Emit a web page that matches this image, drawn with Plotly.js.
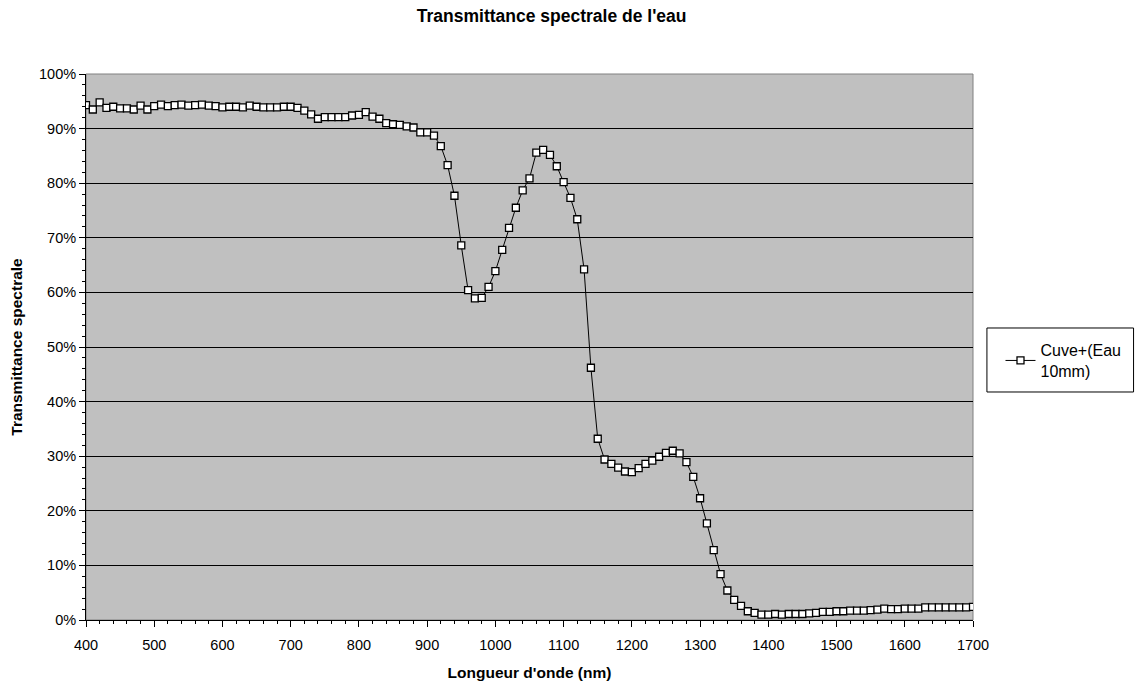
<!DOCTYPE html>
<html>
<head>
<meta charset="utf-8">
<script src="https://cdn.plot.ly/plotly-3.0.1.min.js"></script>
<style>html,body{margin:0;padding:0;background:#fff;}#chart{width:1139px;height:681px;}</style>
</head>
<body>
<div id="chart"></div>
<script>
// Wavelengths (nm), one point every 10 nm (390 lies just outside the visible axis)
const wavelengths = [390,400,410,420,430,440,450,460,470,480,490,500,510,520,530,540,550,560,570,580,590,
  600,610,620,630,640,650,660,670,680,690,700,710,720,730,740,750,760,770,780,790,
  800,810,820,830,840,850,860,870,880,890,900,910,920,930,940,950,960,970,980,990,
  1000,1010,1020,1030,1040,1050,1060,1070,1080,1090,1100,1110,1120,1130,1140,1150,1160,1170,1180,1190,
  1200,1210,1220,1230,1240,1250,1260,1270,1280,1290,1300,1310,1320,1330,1340,1350,1360,1370,1380,1390,
  1400,1410,1420,1430,1440,1450,1460,1470,1480,1490,1500,1510,1520,1530,1540,1550,1560,1570,1580,1590,
  1600,1610,1620,1630,1640,1650,1660,1670,1680,1690,1700];
// Transmittance (%) for "Cuve+(Eau 10mm)"
const transmittance = [88.0,94.3,93.5,94.8,93.8,94.0,93.7,93.7,93.5,94.2,93.5,94.1,94.4,94.1,94.3,94.4,94.2,94.3,94.4,94.2,94.1,
  93.9,94.0,94.0,93.9,94.2,94.0,93.9,93.9,93.9,94.0,94.0,93.8,93.3,92.6,91.8,92.1,92.1,92.1,92.1,92.4,
  92.5,93.0,92.2,91.8,91.0,90.8,90.7,90.4,90.2,89.3,89.3,88.7,86.8,83.3,77.7,68.6,60.4,58.9,59.0,61.0,
  63.9,67.8,71.8,75.5,78.7,80.9,85.6,86.1,85.2,83.1,80.2,77.3,73.4,64.2,46.2,33.2,29.4,28.6,27.9,27.2,
  27.1,27.8,28.6,29.2,29.9,30.6,31.0,30.5,28.9,26.2,22.3,17.7,12.8,8.4,5.4,3.7,2.6,1.6,1.3,1.0,
  1.0,1.1,1.0,1.1,1.1,1.1,1.2,1.3,1.5,1.5,1.6,1.6,1.7,1.7,1.7,1.8,1.9,2.1,2.0,2.0,
  2.1,2.1,2.1,2.3,2.3,2.3,2.3,2.3,2.3,2.3,2.4];
const seriesName = "Cuve+(Eau<br>10mm)";
const yTickVals = [0,10,20,30,40,50,60,70,80,90,100];
const yTickText = ["0%","10%","20%","30%","40%","50%","60%","70%","80%","90%","100%"];

const font = "Liberation Sans, Arial, sans-serif";

const trace = {
  x: wavelengths, y: transmittance, name: seriesName,
  type: "scatter", mode: "lines+markers",
  line: {color: "#000", width: 1},
  marker: {symbol: "square", size: 7, color: "#fff", line: {color: "#000", width: 1.3}},
  cliponaxis: true
};

const layout = {
  width: 1139, height: 681,
  margin: {l: 86, r: 164, t: 74, b: 61, pad: 0},
  paper_bgcolor: "#fff", plot_bgcolor: "#C0C0C0",
  font: {family: font, size: 14.5, color: "#000"},
  title: {text: "<b>Transmittance spectrale de l'eau</b>", font: {family: font, size: 17.5, color: "#000"},
    xref: "paper", x: 0.525, xanchor: "center", y: 0.977, yanchor: "middle"},
  xaxis: {
    range: [400, 1700], tickmode: "linear", tick0: 400, dtick: 100,
    ticks: "outside", ticklen: 6, tickcolor: "#000", tickwidth: 1, ticklabelstandoff: 6,
    minor: {dtick: 20, ticks: "outside", ticklen: 3, tickcolor: "#000", showgrid: false},
    showline: true, linecolor: "#000", linewidth: 1, showgrid: false, zeroline: false,
    tickfont: {family: font, size: 14.5, color: "#000"},
    title: {text: "<b>Longueur d'onde (nm)</b>", font: {family: font, size: 15.5, color: "#000"}, standoff: 14}
  },
  yaxis: {
    range: [0, 100], tickvals: yTickVals, ticktext: yTickText,
    ticks: "outside", ticklen: 6, tickcolor: "#000", tickwidth: 1,
    minor: {dtick: 2, ticks: "outside", ticklen: 3, tickcolor: "#000", showgrid: false},
    showline: true, linecolor: "#000", linewidth: 1,
    showgrid: true, gridcolor: "#000", gridwidth: 1, zeroline: false,
    tickfont: {family: font, size: 14.5, color: "#000"},
    title: {text: "<b>Transmittance spectrale</b>", font: {family: font, size: 15.5, color: "#000"}, standoff: 12}
  },
  showlegend: true,
  legend: {x: 1.031, xanchor: "left", y: 0.475, yanchor: "middle",
    bgcolor: "rgba(0,0,0,0)", borderwidth: 0,
    font: {family: font, size: 16, color: "#000"}, itemwidth: 30},
  shapes: [
    {type: "rect", xref: "paper", yref: "paper", x0: 0, x1: 1, y0: 0, y1: 1,
     line: {color: "#808080", width: 1}, fillcolor: "rgba(0,0,0,0)", layer: "below"},
    {type: "rect", xref: "paper", yref: "paper", x0: 1.0157, x1: 1.181, y0: 0.4176, y1: 0.5348,
     line: {color: "#000", width: 1}, fillcolor: "rgba(0,0,0,0)"}
  ]
};

Plotly.newPlot("chart", [trace], layout, {displayModeBar: false, staticPlot: true});
</script>
</body>
</html>
